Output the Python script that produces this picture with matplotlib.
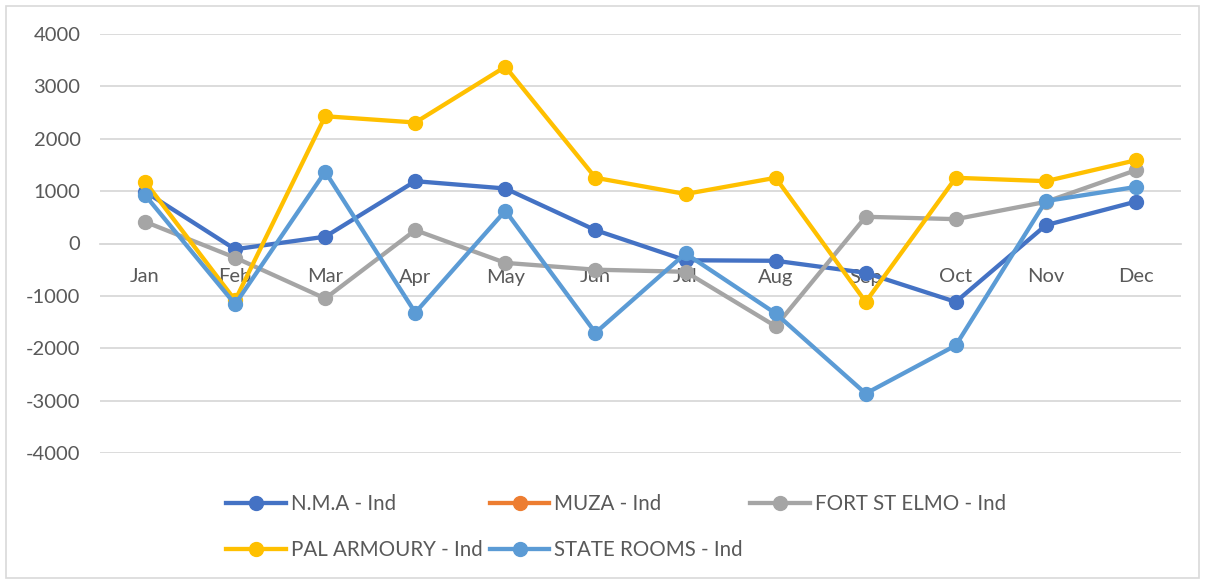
import matplotlib.pyplot as plt
import numpy as np
from matplotlib.patches import Rectangle

plt.rcParams['font.family'] = ['Lato', 'DejaVu Sans']
plt.rcParams['axes.unicode_minus'] = False

months = ['Jan', 'Feb', 'Mar', 'Apr', 'May', 'Jun', 'Jul', 'Aug', 'Sep', 'Oct', 'Nov', 'Dec']

nma = [990, -110, 130, 1190, 1050, 255, -320, -330, -560, -1115, 350, 800]
muza = [np.nan] * 12
fort_st_elmo = [415, -270, -1050, 255, -370, -500, -540, -1580, 510, 465, 795, 1400]
pal_armoury = [1180, -1085, 2430, 2310, 3375, 1255, 945, 1255, -1115, 1255, 1190, 1590]
state_rooms = [925, -1160, 1370, -1320, 625, -1705, -190, -1335, -2865, -1945, 810, 1080]

series_names = ['N.M.A - Ind', 'MUZA - Ind', 'FORT ST ELMO - Ind', 'PAL ARMOURY - Ind', 'STATE ROOMS - Ind']
series_vals = [nma, muza, fort_st_elmo, pal_armoury, state_rooms]
colors = ['#4472C4', '#ED7D31', '#A5A5A5', '#FFC000', '#5B9BD5']

W, H = 1205, 580
fig = plt.figure(figsize=(W / 100, H / 100), dpi=100)
ax = fig.add_axes([100 / W, 1 - 453 / H, (1181 - 100) / W, (453 - 34) / H])

x = np.arange(len(months))
handles = []
for name, vals, c in zip(series_names, series_vals, colors):
    h, = ax.plot(x, vals, color=c, lw=3.1, marker='o', ms=10, label=name,
                 solid_joinstyle='round', zorder=3)
    handles.append(h)

ax.set_xlim(-0.5, 11.5)
ax.set_ylim(-4000, 4000)
ax.set_yticks(np.arange(-4000, 4001, 1000))
ax.yaxis.grid(True, color='#D9D9D9', lw=1.3)
ax.set_axisbelow(True)
for s in ['left', 'right', 'top']:
    ax.spines[s].set_visible(False)
ax.spines['bottom'].set_position(('data', 0))
ax.spines['bottom'].set_color('#D9D9D9')
ax.spines['bottom'].set_linewidth(1.3)

ax.set_xticks(x)
ax.set_xticklabels(months)
ax.tick_params(axis='x', length=0, pad=18, labelsize=14.5, labelcolor='#595959')
ax.tick_params(axis='y', length=0, pad=14, labelsize=14.5, labelcolor='#595959')

# column-wise fill: N.M.A/PAL, MUZA/STATE, FORT
order = [0, 3, 1, 4, 2]
leg = fig.legend([handles[i] for i in order], [series_names[i] for i in order],
                 ncol=3, loc='center left', bbox_to_anchor=(226 / W, 1 - 527 / H),
                 frameon=False, fontsize=14.8, handlelength=2.9, handletextpad=0.25,
                 columnspacing=0.35, labelspacing=1.25, borderpad=0, borderaxespad=0)
for t in leg.get_texts():
    t.set_color('#595959')

fig.patches.append(Rectangle((6 / W, 2 / H), (W - 12) / W, (H - 8) / H,
                             transform=fig.transFigure, fill=False,
                             edgecolor='#D9D9D9', lw=1.2))

fig.savefig('out.png', dpi=100)
